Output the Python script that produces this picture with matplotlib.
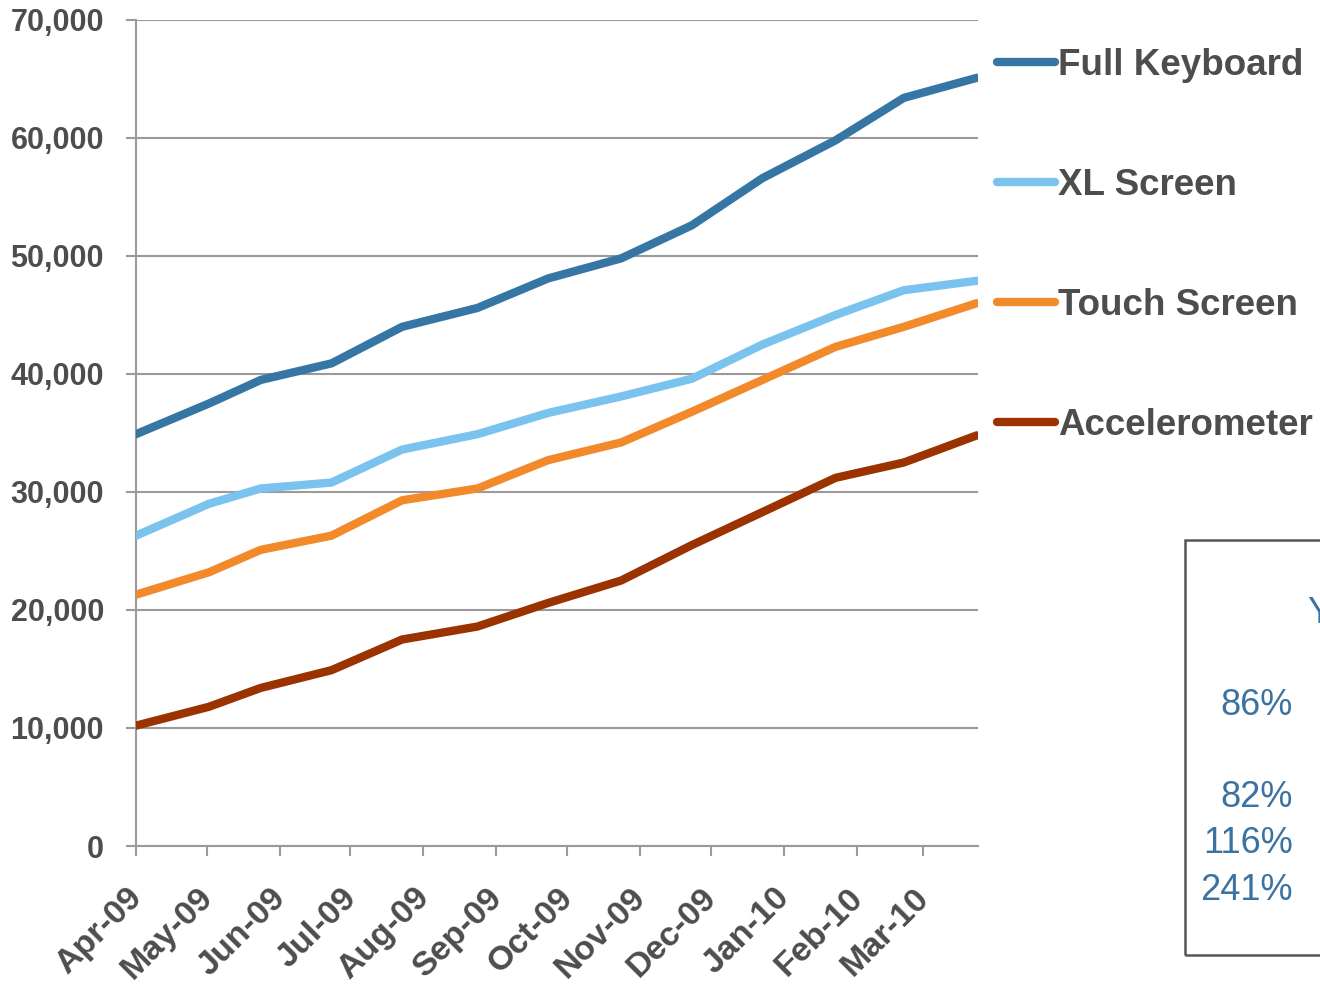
import numpy as np
import pandas as pd
import matplotlib
matplotlib.use("Agg")
from matplotlib import pyplot as plt
import matplotlib.dates as mdates
from matplotlib.lines import Line2D
from matplotlib.patches import Rectangle
from matplotlib.ticker import FuncFormatter
from matplotlib.transforms import ScaledTranslation

plt.rcParams['font.family'] = ['Liberation Sans', 'DejaVu Sans']

dates = pd.to_datetime(["2009-04-01", "2009-05-02", "2009-05-24", "2009-06-23",
                        "2009-07-23", "2009-08-24", "2009-09-23", "2009-10-24",
                        "2009-11-23", "2009-12-23", "2010-01-23", "2010-02-21",
                        "2010-03-24"])

full_keyboard = [34900, 37500, 39500, 40900, 44000, 45600, 48100, 49800,
                 52600, 56600, 59800, 63400, 65100]
xl_screen = [26300, 29000, 30300, 30800, 33600, 34900, 36700, 38100,
             39600, 42500, 45000, 47100, 47900]
touch_screen = [21300, 23200, 25100, 26300, 29300, 30300, 32700, 34200,
                36800, 39500, 42300, 44000, 46000]
accelerometer = [10200, 11800, 13400, 14900, 17500, 18600, 20600, 22500,
                 25500, 28300, 31200, 32500, 34800]

series_names = ["Full Keyboard", "XL Screen", "Touch Screen", "Accelerometer"]
series_values = [full_keyboard, xl_screen, touch_screen, accelerometer]
series_colors = ["#3676a5", "#79c3ee", "#f2892b", "#9b3300"]

growth_labels = ["86%", "82%", "116%", "241%"]

text_grey = "#4d4d4d"
axis_grey = "#9a9a9a"

W, H = 1320, 991
fig = plt.figure(figsize=(W / 100, H / 100), dpi=100)
ax = fig.add_axes([136 / W, 1 - 846 / H, (978 - 136) / W, (846 - 20) / H])

for name, vals, col in zip(series_names, series_values, series_colors):
    ax.plot(dates, vals, color=col, lw=6, solid_capstyle='round',
            solid_joinstyle='round', label=name, zorder=3)

ax.set_ylim(0, 70000)
ax.set_yticks(np.arange(0, 70001, 10000))
ax.yaxis.set_major_formatter(FuncFormatter(lambda v, p: "{:,.0f}".format(v)))
ax.set_xlim(pd.Timestamp("2009-04-01"), pd.Timestamp("2010-03-24 12:00"))
ax.xaxis.set_major_locator(mdates.MonthLocator())
ax.xaxis.set_major_formatter(mdates.DateFormatter("%b-%y"))

ax.grid(axis='y', color=axis_grey, lw=1.5)
ax.set_axisbelow(True)
for s in ['top', 'right']:
    ax.spines[s].set_visible(False)
for s in ['left', 'bottom']:
    ax.spines[s].set_color(axis_grey)
    ax.spines[s].set_linewidth(1.5)

ax.tick_params(axis='y', length=7, width=1.5, color=axis_grey, pad=16,
               labelsize=22, labelcolor=text_grey)
ax.tick_params(axis='x', length=7, width=1.5, color=axis_grey, pad=19,
               labelsize=24.5, labelcolor=text_grey)
for lab in ax.get_yticklabels():
    lab.set_fontweight('bold')
shift = ScaledTranslation(-7 / 72, 0, fig.dpi_scale_trans)
for lab in ax.get_xticklabels():
    lab.set_fontweight('bold')
    lab.set_rotation(45)
    lab.set_ha('right')
    lab.set_rotation_mode('anchor')
    lab.set_transform(lab.get_transform() + shift)

# legend drawn at the right of the plot
legend_y = [62, 182, 302, 422]
for name, col, y in zip(series_names, series_colors, legend_y):
    fig.add_artist(Line2D([997 / W, 1055 / W], [1 - y / H, 1 - y / H],
                          color=col, lw=6, solid_capstyle='round'))
    fig.text(1058 / W, 1 - (y + 13) / H, name, fontsize=26.5, fontweight='bold',
             color=text_grey, va='baseline', ha='left')

# growth box, cut by the right edge
fig.add_artist(Rectangle((1185 / W, 1 - 955 / H), 200 / W, 415 / H,
                         fill=False, edgecolor="#555555", lw=1.8))
fig.text(1308 / W, 1 - 623 / H, "YoY Growth", fontsize=26, color="#3a72a2",
         va='baseline', ha='left')
growth_y = [715, 807, 853, 900]
for lab, y in zip(growth_labels, growth_y):
    fig.text(1293 / W, 1 - y / H, lab, fontsize=26, color="#3a72a2",
             va='baseline', ha='right')

fig.savefig("out.png", dpi=100)
